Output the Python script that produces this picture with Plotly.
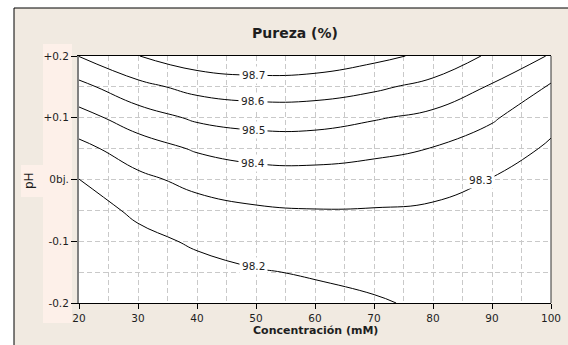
import plotly.graph_objects as go

# ---- data ----
conc = [20, 30, 40, 50, 60, 70, 80, 90, 100]           # Concentración (mM)
ph = [-0.20, -0.15, -0.10, -0.05, 0.00, 0.05, 0.10, 0.15, 0.20]  # pH offset

# Pureza (%) estimated on the grid, rows follow ph, columns follow conc
pureza = [
    [98.120, 98.140, 98.145, 98.162, 98.175, 98.191, 98.215, 98.225, 98.222],
    [98.120, 98.155, 98.173, 98.194, 98.208, 98.224, 98.235, 98.235, 98.228],
    [98.130, 98.175, 98.212, 98.240, 98.252, 98.259, 98.256, 98.250, 98.235],
    [98.155, 98.218, 98.265, 98.288, 98.297, 98.295, 98.287, 98.271, 98.245],
    [98.199, 98.278, 98.328, 98.357, 98.363, 98.354, 98.335, 98.297, 98.263],
    [98.272, 98.351, 98.411, 98.441, 98.442, 98.423, 98.397, 98.351, 98.286],
    [98.362, 98.451, 98.516, 98.540, 98.539, 98.508, 98.475, 98.411, 98.327],
    [98.471, 98.571, 98.632, 98.654, 98.649, 98.618, 98.568, 98.490, 98.387],
    [98.602, 98.698, 98.760, 98.776, 98.765, 98.725, 98.678, 98.582, 98.492],
]

y_tickvals = [-0.2, -0.1, 0.0, 0.1, 0.2]
y_ticktext = ["-0.2", "-0.1", "0bj.", "+0.1", "+0.2"]
x_tickvals = [20, 30, 40, 50, 60, 70, 80, 90, 100]

label_text = ["98.7", "98.6", "98.5", "98.4", "98.3", "98.2"]
label_x = [49.5, 49.5, 49.5, 49.5, 88.1, 49.6]
label_y = [0.169, 0.127, 0.080, 0.027, 0.000, -0.140]

title_text = "Pureza (%)"
x_title = "Concentración (mM)"
y_title = "pH"

# ---- styling ----
FONT = "DejaVu Sans"
TXT = "#1e1e1e"
BEIGE = "#F1EAE1"
PINK = "#FDF0E9"
GRID = "#C9C9C9"

fig = go.Figure()
fig.add_trace(go.Contour(
    x=conc, y=ph, z=pureza,
    contours=dict(start=98.2, end=98.7, size=0.1, coloring="lines", showlabels=False),
    colorscale=[[0, "black"], [1, "black"]],
    showscale=False,
    line=dict(width=1, smoothing=1.3),
    hoverinfo="skip",
))

annotations = []
for t, xx, yy in zip(label_text, label_x, label_y):
    annotations.append(dict(
        x=xx, y=yy, xref="x", yref="y", text=t, showarrow=False,
        font=dict(family=FONT, size=10.5, color=TXT),
        bgcolor="white", borderpad=2,
    ))
annotations.append(dict(
    x=0.5, y=-0.113, xref="paper", yref="paper", text=x_title, showarrow=False,
    font=dict(family=FONT, size=11, color=TXT, weight="bold"),
    xanchor="center", yanchor="middle",
))
annotations.append(dict(
    x=-0.1075, y=0.495, xref="paper", yref="paper", text=y_title, showarrow=False,
    textangle=-90, font=dict(family=FONT, size=12, color=TXT),
    xanchor="center", yanchor="middle",
))

shapes = [
    # outer beige panel with black frame
    dict(type="rect", xref="paper", yref="paper", x0=-0.1377, x1=1.06, y0=-0.2, y1=1.1943,
         fillcolor=BEIGE, line=dict(color="black", width=1), layer="below"),
    # pink tick label column
    dict(type="rect", xref="paper", yref="paper", x0=-0.0763, x1=-0.0148, y0=-0.081, y1=1.0486,
         fillcolor=PINK, line=dict(width=0), layer="below"),
    # pink box behind pH label
    dict(type="rect", xref="paper", yref="paper", x0=-0.1229, x1=-0.0763, y0=0.4291, y1=0.5587,
         fillcolor=PINK, line=dict(width=0), layer="below"),
    # white plot area
    dict(type="rect", xref="paper", yref="paper", x0=0, x1=1, y0=0, y1=1,
         fillcolor="white", line=dict(width=0), layer="below"),
    # right border of plot
    dict(type="line", xref="paper", yref="paper", x0=1, x1=1, y0=0, y1=1,
         line=dict(color="#333333", width=1)),
]

fig.update_layout(
    width=568, height=345,
    margin=dict(l=79, r=17, t=56, b=42, autoexpand=False),
    paper_bgcolor="white", plot_bgcolor="white",
    title=dict(text=title_text, x=0.4576, xref="paper", y=0.904, yref="container",
               xanchor="center", yanchor="middle",
               font=dict(family=FONT, size=14, color=TXT, weight="bold")),
    showlegend=False,
    annotations=annotations,
    shapes=shapes,
    xaxis=dict(
        range=[20, 100], tickvals=x_tickvals, ticks="outside", ticklen=5, tickcolor="black",
        showline=True, linecolor="black", linewidth=1, mirror=True, automargin=False,
        showgrid=True, gridcolor=GRID, griddash="5px,3px", gridwidth=1,
        minor=dict(dtick=5, tick0=20, showgrid=True, gridcolor=GRID, griddash="5px,3px", ticks=""),
        zeroline=False,
        tickfont=dict(family=FONT, size=10.5, color=TXT),
    ),
    yaxis=dict(
        range=[-0.2, 0.2], tickvals=y_tickvals, ticktext=y_ticktext,
        ticks="outside", ticklen=6, tickcolor="black",
        showline=True, linecolor="#808080", linewidth=2, automargin=False,
        showgrid=True, gridcolor=GRID, griddash="5px,3px", gridwidth=1,
        minor=dict(dtick=0.05, tick0=-0.2, showgrid=True, gridcolor=GRID, griddash="5px,3px", ticks=""),
        zeroline=False,
        tickfont=dict(family=FONT, size=10.5, color=TXT),
    ),
)

fig.write_html(
    "out.html",
    config={"displayModeBar": False},
    post_script="document.body.style.margin='0';document.body.style.padding='0';",
)
